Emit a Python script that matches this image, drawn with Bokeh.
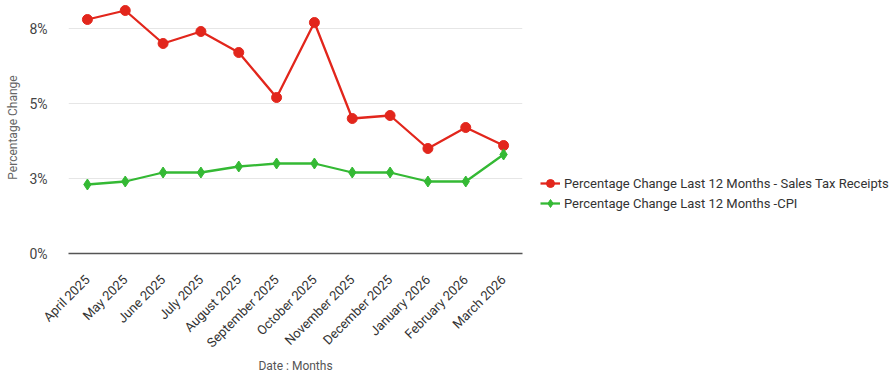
from math import pi

from bokeh.embed import file_html
from bokeh.models import ColumnDataSource, FixedTicker, Legend, LegendItem, Range1d
from bokeh.plotting import figure
from bokeh.resources import INLINE

months = [
    "April 2025", "May 2025", "June 2025", "July 2025", "August 2025",
    "September 2025", "October 2025", "November 2025", "December 2025",
    "January 2026", "February 2026", "March 2026",
]
sales_tax_pct = [7.8, 8.1, 7.0, 7.4, 6.7, 5.2, 7.7, 4.5, 4.6, 3.5, 4.2, 3.6]
cpi_pct = [2.3, 2.4, 2.7, 2.7, 2.9, 3.0, 3.0, 2.7, 2.7, 2.4, 2.4, 3.3]

y_ticks = [0, 2.5, 5, 7.5]
y_tick_labels = ["0%", "3%", "5%", "8%"]

FONT = "Roboto"
RED = "#e2261c"
GREEN = "#34b934"

source = ColumnDataSource(dict(month=months, sales=sales_tax_pct, cpi=cpi_pct))

p = figure(
    x_range=months,
    y_range=Range1d(0, 8.4),
    frame_width=454,
    frame_height=252,
    min_border_left=68,
    min_border_right=0,
    min_border_top=1,
    min_border_bottom=122,
    output_backend="svg",
    toolbar_location=None,
)
p.outline_line_color = None
p.background_fill_color = "white"
p.border_fill_color = "white"

# Sales tax receipts series
r_line = p.line("month", "sales", source=source, line_color=RED, line_width=2.3)
r_pts = p.scatter("month", "sales", source=source, marker="circle", size=10,
                  fill_color=RED, line_color=RED)

# CPI series
g_line = p.line("month", "cpi", source=source, line_color=GREEN, line_width=2.3)
g_pts = p.scatter("month", "cpi", source=source, marker="diamond", size=11,
                  fill_color=GREEN, line_color=GREEN)

# Grid
p.xgrid.grid_line_color = None
p.ygrid.ticker = FixedTicker(ticks=[2.5, 5, 7.5])
p.ygrid.grid_line_color = "#e6e6e6"
p.ygrid.grid_line_width = 1

# Y axis
p.yaxis.ticker = FixedTicker(ticks=y_ticks)
p.yaxis.major_label_overrides = {t: lab for t, lab in zip(y_ticks, y_tick_labels)}
p.yaxis.axis_line_color = None
p.yaxis.major_tick_line_color = None
p.yaxis.minor_tick_line_color = None
p.yaxis.major_label_standoff = 15
p.yaxis.major_label_text_font = FONT
p.yaxis.major_label_text_font_size = "14px"
p.yaxis.major_label_text_color = "#444444"
p.yaxis.axis_label = "Percentage Change"
p.yaxis.axis_label_text_font = FONT
p.yaxis.axis_label_text_font_size = "12px"
p.yaxis.axis_label_text_font_style = "normal"
p.yaxis.axis_label_text_color = "#666666"
p.yaxis.axis_label_standoff = 6

# X axis
p.xaxis.axis_line_color = "#555555"
p.xaxis.axis_line_width = 1.5
p.xaxis.major_tick_line_color = None
p.xaxis.minor_tick_line_color = None
p.xaxis.major_label_orientation = pi / 4
p.xaxis.major_label_standoff = 18
p.xaxis.major_label_text_font = FONT
p.xaxis.major_label_text_font_size = "13px"
p.xaxis.major_label_text_color = "#333333"
p.xaxis.axis_label = "Date : Months"
p.xaxis.axis_label_text_font = FONT
p.xaxis.axis_label_text_font_size = "12px"
p.xaxis.axis_label_text_font_style = "normal"
p.xaxis.axis_label_text_color = "#555555"
p.xaxis.axis_label_standoff = 0

legend = Legend(
    items=[
        LegendItem(label="Percentage Change Last 12 Months - Sales Tax Receipts",
                   renderers=[r_line, r_pts]),
        LegendItem(label="Percentage Change Last 12 Months -CPI",
                   renderers=[g_line, g_pts]),
    ],
    location=(18, 40),
    border_line_color=None,
    background_fill_alpha=0,
    label_text_font=FONT,
    label_text_font_size="13px",
    label_text_color="#333333",
    glyph_width=20,
    glyph_height=20,
    label_height=20,
    spacing=0,
    label_standoff=4,
    padding=10,
    margin=10,
)
p.add_layout(legend, "right")

open("out.html", "w").write(file_html(p, INLINE))
